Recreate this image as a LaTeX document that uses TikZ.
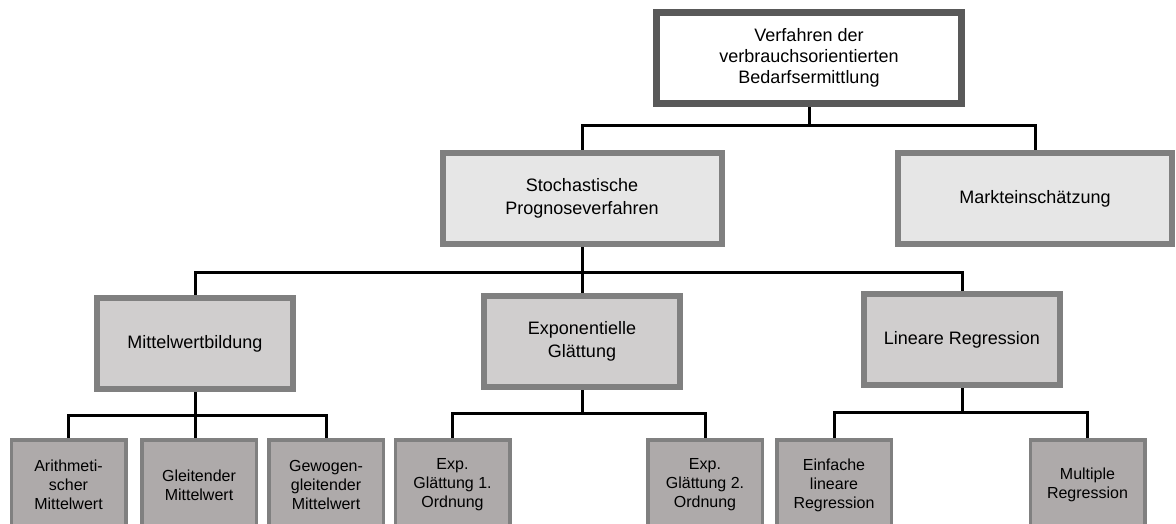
\documentclass[tikz,border=0pt]{standalone}
\usepackage{fontspec}
\setmainfont{Liberation Sans}
\usetikzlibrary{backgrounds}

\definecolor{rootline}{HTML}{595959}
\definecolor{boxline}{HTML}{808080}
\definecolor{fillcat}{HTML}{E6E6E6}
\definecolor{fillmeth}{HTML}{D0CECE}
\definecolor{fillleaf}{HTML}{AEAAAA}

\tikzset{
  box/.style={rectangle, align=center, inner sep=0pt, text=black,
    font=\fontsize{18}{22.5}\selectfont},
  rootbox/.style={box, draw=rootline, line width=7pt, fill=white,
    minimum width=305pt, minimum height=91pt, font=\fontsize{18}{21}\selectfont},
  catbox/.style={box, draw=boxline, line width=6pt, fill=fillcat,
    minimum height=91pt},
  methbox/.style={box, draw=boxline, line width=6pt, fill=fillmeth,
    minimum width=196pt, minimum height=91pt},
  leafbox/.style={box, draw=boxline, line width=3.5pt, fill=fillleaf,
    minimum width=114.5pt, minimum height=90.5pt,
    font=\fontsize{16}{19}\selectfont},
  link/.style={draw=black, line width=3pt}
}

\begin{document}
\begin{tikzpicture}[x=1pt, y=-1pt]
\useasboundingbox (0,0) rectangle (1176,524);

% root
\node[rootbox] (root) at (809,58)
  {Verfahren der\\verbrauchsorientierten\\Bedarfsermittlung};

% first level
\node[catbox, minimum width=279pt] (stoch) at (582,198.5)
  {Stochastische\\Prognoseverfahren};
\node[catbox, minimum width=274pt] (markt) at (1035,198.5)
  {\raisebox{-6pt}{Markteinschätzung}};

% second level
\node[methbox] (mittel) at (195,343.5) {Mittelwertbildung};
\node[methbox] (expo) at (582,341.5) {Exponentielle\\Glättung};
\node[methbox] (linreg) at (962,339.5) {Lineare Regression};

% leaves
\node[leafbox] (arith) at (68.5,485) {Arithmeti-\\scher\\Mittelwert};
\node[leafbox] (gleit) at (199,485) {Gleitender\\Mittelwert};
\node[leafbox] (gewog) at (326,485) {Gewogen-\\gleitender\\Mittelwert};
\node[leafbox] (exp1) at (452.5,485) {Exp.\\Glättung 1.\\Ordnung};
\node[leafbox] (exp2) at (705,485) {Exp.\\Glättung 2.\\Ordnung};
\node[leafbox] (einf) at (834,485) {Einfache\\lineare\\Regression};
\node[leafbox] (multi) at (1087.5,485) {Multiple\\Regression};

% connectors, kept underneath the boxes
\begin{pgfonlayer}{background}
  \draw[link] (root.south) -- ++(0,19) coordinate (b1);
  \draw[link] (stoch.north) |- (b1) -| (markt.north);

  \draw[link] (stoch.south) -- ++(0,25) coordinate (b2);
  \draw[link] (mittel.north) |- (b2) -| (linreg.north);
  \draw[link] (b2) -- (expo.north);

  \draw[link] (mittel.south) -- ++(0,23) coordinate (b3);
  \draw[link] (arith.north) |- (b3) -| (gewog.north);
  \draw[link] (b3) -- (b3 |- gleit.north);

  \draw[link] (expo.south) -- ++(0,23) coordinate (b4);
  \draw[link] (exp1.north) |- (b4) -| (exp2.north);

  \draw[link] (linreg.south) -- ++(0,24) coordinate (b5);
  \draw[link] (einf.north) |- (b5) -| (multi.north);
\end{pgfonlayer}
\end{tikzpicture}
\end{document}
